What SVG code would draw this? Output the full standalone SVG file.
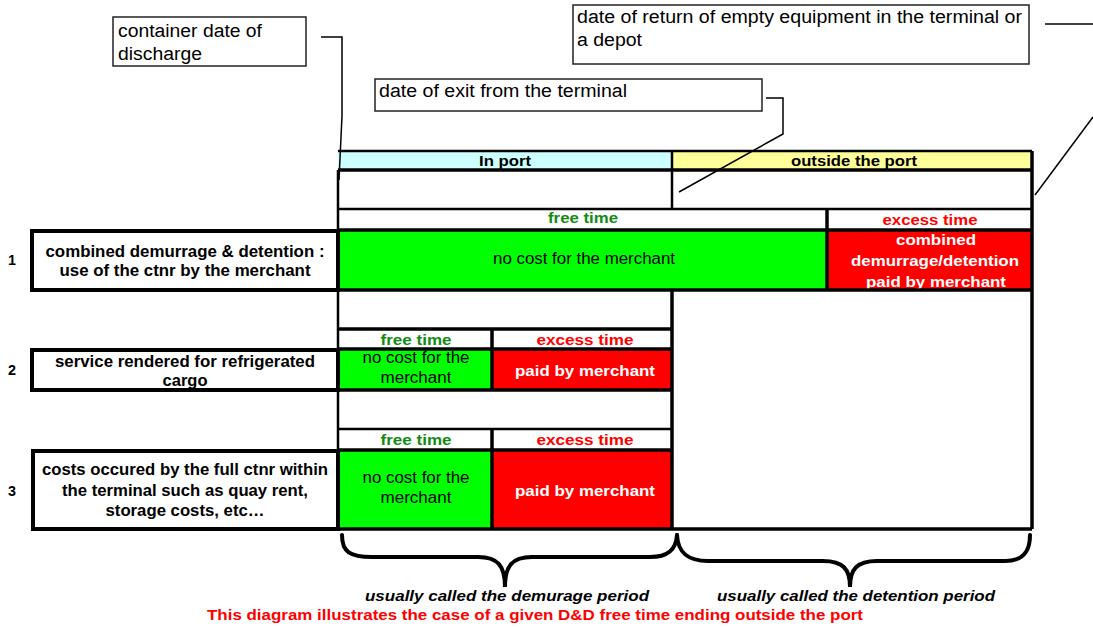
<svg xmlns="http://www.w3.org/2000/svg" width="1093" height="628" viewBox="0 0 1093 628">
<style>
text{font-family:"Liberation Sans",Arial,Helvetica,sans-serif}
.cl{font-size:18px;fill:#000}
.b{font-weight:bold;font-size:15px;text-anchor:middle;fill:#000}
.lb{font-size:16px}
.r{font-size:16px;text-anchor:middle;fill:#000}
.g{fill:#138a13}
.rd{fill:#ff0000}
.w{fill:#ffffff}
.it{font-style:italic}
.box{fill:#fff;stroke:#222;stroke-width:1.5}
.lbl{fill:#fff;stroke:#000;stroke-width:4}
.k{stroke:#000;stroke-width:3.5;fill:none}
.m{stroke:#000;stroke-width:2.5;fill:none}
.conn{stroke:#000;stroke-width:1.5;fill:none}
.brace{stroke:#000;stroke-width:4;fill:none;stroke-linecap:round}
</style>
<rect width="1093" height="628" fill="#fff"/>

<g id="callout-discharge">
<rect class="box" x="113" y="17" width="193" height="49"/>
<text class="cl" x="118" y="37" textLength="144" lengthAdjust="spacingAndGlyphs">container date of</text>
<text class="cl" x="118" y="60" textLength="84" lengthAdjust="spacingAndGlyphs">discharge</text>
</g>
<g id="callout-exit">
<rect class="box" x="375" y="79" width="387" height="32"/>
<text class="cl" x="379" y="97" textLength="248" lengthAdjust="spacingAndGlyphs">date of exit from the terminal</text>
</g>
<g id="callout-return">
<rect class="box" x="573" y="5" width="456" height="59"/>
<text class="cl" x="577" y="23" textLength="445" lengthAdjust="spacingAndGlyphs">date of return of empty equipment in the terminal or</text>
<text class="cl" x="577" y="46" textLength="65" lengthAdjust="spacingAndGlyphs">a depot</text>
</g>

<g id="header">
<rect x="338" y="151" width="334" height="19" fill="#ccffff"/>
<rect x="672" y="151" width="360" height="19" fill="#ffff99"/>
<text class="b" x="505" y="166" textLength="52" lengthAdjust="spacingAndGlyphs">In port</text>
<text class="b" x="854" y="166" textLength="126" lengthAdjust="spacingAndGlyphs">outside the port</text>
</g>

<g id="row1">
<rect x="338" y="230" width="489" height="60" fill="#00ff00"/>
<rect x="827" y="230" width="205" height="60" fill="#ff0000"/>
<text class="b g" x="583" y="223" textLength="70" lengthAdjust="spacingAndGlyphs">free time</text>
<text class="b rd" x="930" y="225" textLength="95" lengthAdjust="spacingAndGlyphs">excess time</text>
<text class="r" x="584" y="264" textLength="182" lengthAdjust="spacingAndGlyphs">no cost for the merchant</text>
<text class="b w" x="936" y="245" textLength="80" lengthAdjust="spacingAndGlyphs">combined</text>
<text class="b w" x="935" y="266" textLength="168" lengthAdjust="spacingAndGlyphs">demurrage/detention</text>
<text class="b w" x="936" y="287" textLength="140" lengthAdjust="spacingAndGlyphs">paid by merchant</text>
</g>

<g id="row2">
<rect x="338" y="349" width="154" height="41" fill="#00ff00"/>
<rect x="492" y="349" width="180" height="41" fill="#ff0000"/>
<text class="b g" x="416" y="345" textLength="71" lengthAdjust="spacingAndGlyphs">free time</text>
<text class="b rd" x="585" y="345" textLength="97" lengthAdjust="spacingAndGlyphs">excess time</text>
<text class="r" x="416" y="363" textLength="107" lengthAdjust="spacingAndGlyphs">no cost for the</text>
<text class="r" x="416" y="383" textLength="71" lengthAdjust="spacingAndGlyphs">merchant</text>
<text class="b w" x="585" y="376" textLength="140" lengthAdjust="spacingAndGlyphs">paid by merchant</text>
</g>

<g id="row3">
<rect x="338" y="450" width="154" height="79" fill="#00ff00"/>
<rect x="492" y="450" width="180" height="79" fill="#ff0000"/>
<text class="b g" x="416" y="445" textLength="71" lengthAdjust="spacingAndGlyphs">free time</text>
<text class="b rd" x="585" y="445" textLength="97" lengthAdjust="spacingAndGlyphs">excess time</text>
<text class="r" x="416" y="483" textLength="107" lengthAdjust="spacingAndGlyphs">no cost for the</text>
<text class="r" x="416" y="503" textLength="71" lengthAdjust="spacingAndGlyphs">merchant</text>
<text class="b w" x="585" y="496" textLength="140" lengthAdjust="spacingAndGlyphs">paid by merchant</text>
</g>

<g id="grid-lines">
<line class="m" x1="338" y1="151" x2="1032" y2="151"/>
<line class="k" x1="338" y1="170" x2="1032" y2="170"/>
<line class="m" x1="338" y1="209" x2="1032" y2="209"/>
<line class="k" x1="338" y1="230" x2="1032" y2="230"/>
<line class="k" x1="338" y1="290" x2="1032" y2="290"/>
<line class="k" x1="338" y1="329" x2="672" y2="329"/>
<line class="k" x1="338" y1="349" x2="672" y2="349"/>
<line class="k" x1="338" y1="390" x2="672" y2="390"/>
<line class="m" x1="338" y1="429" x2="672" y2="429"/>
<line class="k" x1="338" y1="450" x2="672" y2="450"/>
<line class="k" x1="338" y1="529" x2="1032" y2="529"/>
<line class="m" x1="338" y1="170" x2="338" y2="529"/>
<line class="k" x1="1032" y1="151" x2="1032" y2="529"/>
<line class="m" x1="672" y1="151" x2="672" y2="209"/>
<line class="k" x1="672" y1="290" x2="672" y2="529"/>
<line class="k" x1="827" y1="209" x2="827" y2="290"/>
<line class="k" x1="492" y1="329" x2="492" y2="390"/>
<line class="k" x1="492" y1="429" x2="492" y2="529"/>
</g>

<g id="label-1">
<text class="b" x="12" y="265" textLength="8" lengthAdjust="spacingAndGlyphs">1</text>
<rect class="lbl" x="32" y="231" width="306" height="59"/>
<text class="b lb" x="185" y="257" textLength="279" lengthAdjust="spacingAndGlyphs">combined demurrage &amp; detention :</text>
<text class="b lb" x="185" y="276" textLength="251" lengthAdjust="spacingAndGlyphs">use of the ctnr by the merchant</text>
</g>
<g id="label-2">
<text class="b" x="12" y="375" textLength="8" lengthAdjust="spacingAndGlyphs">2</text>
<rect class="lbl" x="32" y="350" width="306" height="40"/>
<text class="b lb" x="185" y="367" textLength="260" lengthAdjust="spacingAndGlyphs">service rendered for refrigerated</text>
<text class="b lb" x="185" y="386" textLength="45" lengthAdjust="spacingAndGlyphs">cargo</text>
</g>
<g id="label-3">
<text class="b" x="12" y="496" textLength="8" lengthAdjust="spacingAndGlyphs">3</text>
<rect class="lbl" x="33" y="451" width="305" height="78"/>
<text class="b lb" x="185" y="475" textLength="286" lengthAdjust="spacingAndGlyphs">costs occured by the full ctnr within</text>
<text class="b lb" x="185" y="496" textLength="246" lengthAdjust="spacingAndGlyphs">the terminal such as quay rent,</text>
<text class="b lb" x="185" y="516" textLength="159" lengthAdjust="spacingAndGlyphs">storage costs, etc…</text>
</g>

<g id="connectors">
<path class="conn" d="M321,37 L342,37 L342,116 L339,180"/>
<path class="conn" d="M766,98 L783,98 L783,134 L679,192"/>
<path class="conn" d="M1045,24 L1093,24"/>
<path class="conn" d="M1093,117 L1035,195"/>
</g>

<g id="braces">
<path class="brace" d="M342,535 C342,552 350,557 372,557 L478,557 C498,557 505,566 505,587 C505,566 512,557 532,557 L650,557 C668,557 676,550 677,535"/>
<path class="brace" d="M677,535 C678,553 688,561 708,561 L823,561 C843,561 850,569 850,587 C850,569 857,561 877,561 L1005,561 C1022,561 1030,553 1030,535"/>
</g>

<g id="footer">
<text class="b it" x="507" y="601" textLength="284" lengthAdjust="spacingAndGlyphs">usually called the demurage period</text>
<text class="b it" x="856" y="601" textLength="278" lengthAdjust="spacingAndGlyphs">usually called the detention period</text>
<text class="b rd" x="535" y="620" textLength="656" lengthAdjust="spacingAndGlyphs">This diagram illustrates the case of a given D&amp;D free time ending outside the port</text>
</g>
</svg>
